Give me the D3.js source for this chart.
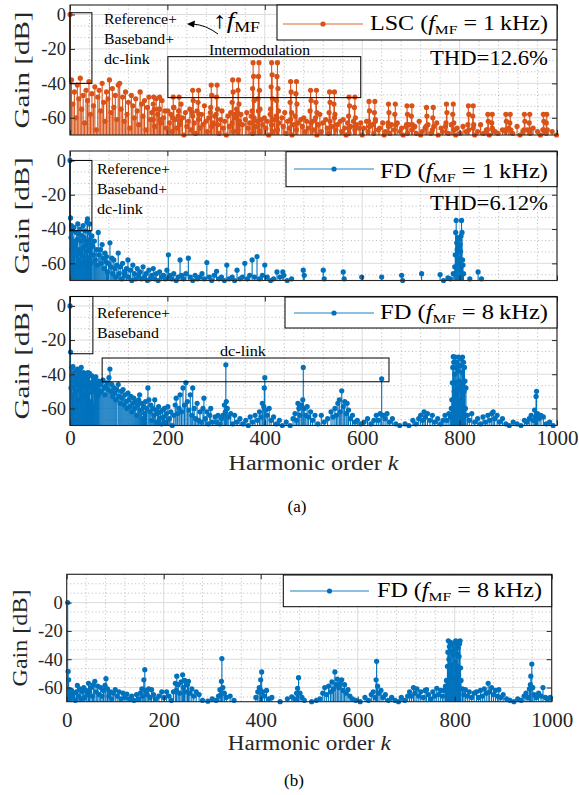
<!DOCTYPE html>
<html><head><meta charset="utf-8">
<script src="https://cdn.jsdelivr.net/npm/d3@7"></script>
<style>
body{margin:0;background:#fff}
svg{display:block}
text{font-family:"Liberation Serif","Times New Roman",serif;fill:#000}
</style>
</head><body>
<svg id="c" width="579" height="795"></svg>
<script>
// ---------------- DATA ----------------
const xTickValues = [0, 200, 400, 600, 800, 1000];
const yTickValues = [-60, -40, -20, 0];

// LSC (f_MF = 1 kHz): background spectrum, every 3rd harmonic order starting at 0
const lscCloud = [
  0,
  -38,-52,-45,-60,-41,-49,-37,-55,-47,-63,-44,-50,-39,-58,-46,-53,-42,-67,-48,-44,-56,-40,-51,-62,-45,-49,-38,-57,-43,-54,-47,-61,-41,
  -40,-55,-48,-62,-45,-58,-51,-66,-47,-53,-60,-49,-56,-64,-45,-52,-59,-50,-67,-54,-48,-61,-57,-52,-65,-49,-58,-55,-63,-50,-60,-56,-66,
  -56,-63,-58,-68,-54,-61,-66,-59,-64,-52,-60,-70,-57,-65,-62,-55,-67,-59,-63,-69,-56,-61,-66,-58,-64,-53,-62,-68,-60,-57,-65,-63,-59,
  -58,-64,-69,-61,-56,-66,-62,-70,-59,-65,-57,-63,-68,-60,-55,-67,-62,-58,-64,-71,-61,-57,-66,-63,-59,-69,-60,-65,-62,-56,-68,-61,-64,
  -60,-66,-62,-70,-58,-64,-68,-61,-59,-67,-63,-72,-60,-65,-57,-69,-62,-66,-61,-70,-64,-59,-67,-63,-73,-61,-65,-60,-68,-62,-66,-71,-63,
  -62,-67,-60,-70,-64,-58,-68,-63,-72,-61,-66,-69,-62,-65,-71,-60,-67,-64,-74,-62,-68,-61,-66,-70,-63,-69,-65,-72,-62,-67,-64,-71,-66,
  -63,-70,-66,-73,-62,-68,-65,-75,-64,-69,-61,-72,-67,-66,-74,-63,-70,-68,-76,-65,-69,-64,-72,-67,-71,-63,-75,-68,-66,-70,-73,-65,-69,
  -64,-71,-67,-76,-65,-69,-73,-62,-70,-68,-75,-66,-72,-64,-78,-69,-67,-71,-74,-63,-70,-76,-66,-68,-73,-65,-71,-69,-77,-64,-72,-67,-70,
  -66,-73,-69,-78,-65,-71,-68,-75,-67,-72,-80,-66,-70,-74,-68,-77,-64,-71,-69,-76,-67,-73,-70,-79,-66,-72,-68,-75,-69,-74,-81,-67,-71,
  -68,-75,-66,-72,-79,-69,-71,-77,-65,-73,-70,-76,-68,-74,-82,-67,-72,-69,-78,-66,-71,-75,-68,-80,-70,-73,-67,-77,-69,-74,-71,-79,-68,-72,-76,-70
];
const lscStep = 3;

// LSC intermodulation side-band pairs [harmonic order, dB]
const lscIntermod = [
  [172,-48],[184,-48],[173,-55],[183,-55],[171,-61],[185,-61],
  [212,-48],[224,-48],[213,-54],[223,-56],[211,-60],[225,-62],
  [252,-44],[264,-44],[253,-50],[263,-51],[251,-57],[265,-58],
  [290,-41],[302,-41],[291,-47],[301,-48],[289,-54],[303,-55],
  [334,-38],[346,-38],[335,-45],[345,-44],[333,-51],[347,-52],[336,-58],[344,-57],
  [376,-28],[388,-28],[377,-36],[387,-36],[375,-43],[389,-44],[378,-50],[386,-49],[374,-56],[390,-55],
  [414,-28],[426,-28],[415,-35],[425,-36],[413,-42],[427,-43],[416,-49],[424,-50],[412,-55],[428,-56],
  [453,-39],[465,-39],[454,-45],[464,-46],[452,-51],[466,-52],[455,-57],
  [494,-44],[506,-44],[495,-50],[505,-51],[493,-56],[507,-57],
  [533,-45],[543,-45],[534,-51],[542,-52],[532,-57],[544,-58],
  [573,-48],[585,-48],[574,-53],[584,-54],[572,-59],[586,-60],
  [614,-50.5],[626,-50.5],[615,-56],[625,-57],[613,-62],[627,-62],
  [654,-52],[668,-52],[655,-57],[667,-58],[653,-63],[669,-64],
  [692,-53],[702,-53],[693,-58],[701,-59],[691,-64],[703,-64],
  [732,-54],[746,-54],[733,-59],[745,-60],[731,-65],[747,-65],
  [773,-52],[787,-52],[774,-57],[786,-58],[772,-63],[788,-63],
  [818,-53],[828,-53],[819,-58],[827,-59],[817,-64],[829,-64],
  [858,-58],[867,-58],[859,-62],[866,-63],[857,-67],[868,-67],
  [895,-58],[904,-58],[896,-62],[903,-63],[894,-67],[905,-67],
  [933,-58],[944,-58],[934,-62],[943,-63],[932,-67],[945,-67],
  [972,-58],[979,-58],[973,-62],[978,-63],[971,-67],[980,-67]
];

// FD (f_MF = 1 kHz) [harmonic order, dB]
const fd1Points = [
  [0,0],[1,-33.5],[2,-45],[3,-38],[4,-52],[5,-41],[6,-57],[7,-47],[8,-39],[9,-50],[10,-53],[11,-61],[12,-48],[13,-42],
  [14,-55],[15,-46],[16,-37],[17,-52],[18,-58],[19,-43],[20,-62],[21,-40],[22,-54],[23,-47],[24,-60],[25,-44],[26,-51],
  [27,-38],[28,-56],[29,-45],[30,-50],[31,-41],[32,-59],[33,-47],[34,-53],[35,-36],[36,-34],[37,-48],[38,-57],[39,-42],
  [40,-37],[41,-51],[42,-46],[43,-60],[44,-49],[45,-44],[47,-50],[49,-55],[50,-47],[52,-58],[54,-52],[56,-61],[58,-42],
  [60,-55],[62,-52],[64,-60],[66,-49],[68,-57],[70,-63],[72,-54],[74,-59],[75,-56],[77,-65],[79,-60],[82,-48],[84,-62],
  [86,-57],[88,-66],[90,-58],[92,-63],[94,-68],[96,-61],[99,-54],[101,-66],[103,-62],[106,-69],[108,-60],[111,-65],
  [113,-67],[116,-63],[119,-58],[121,-68],[124,-64],[127,-70],[129,-61],[132,-66],[135,-69],[138,-63],[141,-67],[144,-65],
  [147,-69],[150,-62],[153,-68],[156,-66],[159,-70],[162,-64],[165,-69],[168,-67],[171,-63],[174,-69],[177,-66],[181,-70],
  [184,-65],[188,-68],[192,-67],[196,-69],[199,-64],[202,-55],[205,-67],[209,-69],[213,-66],[218,-70],[222,-68],[226,-58],
  [229,-67],[233,-69],[238,-66],[243,-57],[247,-68],[252,-70],[257,-67],[262,-69],[266,-68],[271,-66],[276,-69],[281,-59.5],
  [286,-68],[291,-70],[296,-67],[301,-64.6],[306,-69],[311,-68],[317,-70],[322,-61],[327,-69],[333,-68],[338,-70],[343,-64],
  [349,-69],[354,-68],[359,-60],[364,-69],[369,-67],[374,-58],[379,-68],[384,-56],[389,-69],[395,-67],[400,-61],[405,-68],
  [412,-70],[418,-69],[425,-65],[431,-68],[437,-65],[439,-67],[446,-70],[455,-69],[479,-64],[481,-67],[520,-64],[522,-69],
  [561,-65],[563,-69],[599,-68],[640,-68],[681,-67],[683,-70],[722,-66],[760,-66.5],[767,-70],[776,-68.5],[781,-69],[787,-66],
  [790,-62],[791,-55],[792,-42],[793,-35],[794,-48],[795,-52],[796,-45],[797,-57],[798,-50],[799,-46],[800,-60],[801,-49],
  [802,-53],[803,-44],[804,-35],[805,-42],[806,-58],[807,-61],[808,-66],[821,-69],[838,-65],[845,-69]
];

// FD (f_MF = 8 kHz), panel (a) [harmonic order, dB]
const fd8Points = [
  [0,0],[1,-27],[2,-48],[3,-36],[4,-41],[5,-52],[6,-35.5],[7,-44],[8,-39],[9,-47],[10,-60],[11,-42],[12,-38],[13,-50],
  [14,-45],[15,-37],[16,-43],[17,-55],[18,-40],[19,-46],[20,-38],[21,-49],[22,-42],[23,-36],[24,-44],[25,-52],[26,-41],
  [27,-47],[28,-39],[29,-45],[30,-43],[31,-53],[32,-40],[33,-46],[34,-42],[35,-48],[36,-44],[37,-39],[38,-51],[39,-45],
  [40,-39.5],[41,-47],[42,-59],[43,-56],[44,-46],[45,-41],[46,-49],[47,-44],[48,-59],[49,-48],[50,-43],[51,-50],[52,-46],
  [53,-41.5],[54,-52],[55,-47],[56,-45],[57,-53],[58,-49],[59,-44],[60,-51],[62,-46],[64,-50],[66,-44],[68,-43.4],[70,-48],
  [72,-52],[74,-47],[76,-45],[78,-49],[80,-42],[82,-37],[84,-50],[86,-46],[88,-53],[90,-48],[92,-51],[94,-55],[96,-49],
  [99,-46],[101,-53],[103,-57],[105,-50],[107,-54],[109,-49],[111,-58],[113,-52],[115,-56],[117,-60],[119,-51],[121,-55],
  [123,-59],[125,-53],[127,-62],[129,-57],[131,-54],[133,-60],[135,-56],[137,-64],[139,-58],[141,-55],[143,-52],[145,-61],
  [147,-57],[149,-66],[151,-59],[153,-63],[155,-56],[157,-60],[160,-48],[162,-55],[164,-62],[166,-58],[168,-67],[170,-60],
  [172,-64],[174,-55],[176,-61],[178,-68],[180,-63],[182,-59],[184,-66],[186,-62],[188,-69],[190,-61],[192,-65],[194,-60],
  [196,-68],[198,-63],[201,-59],[204,-66],[207,-62],[210,-70],[213,-64],[216,-58],[218,-54],[221,-63],[224,-60],[226,-52],
  [229,-62],[232,-48],[235,-58],[238,-45],[241,-56],[244,-61],[247,-52],[250,-64],[252,-48],[255,-60],[258,-66],[261,-57],
  [264,-67],[267,-62],[270,-68],[273,-60],[275,-54],[278,-66],[281,-62],[284,-69],[287,-64],[289,-60],[293,-68],[298,-65],
  [301,-68],[304,-64],[308,-69],[311,-66],[314,-64],[317,-58],[319,-62],[320,-34.5],[321,-56],[323,-60],[326,-65],[330,-63],
  [334,-69],[338,-64],[343,-68],[349,-66],[355,-69],[361,-67],[366,-70],[370,-65],[375,-68],[380,-64],[385,-67],[389,-62],
  [392,-65],[395,-57],[398,-59],[399,-48],[400,-42],[402,-61],[405,-64],[409,-60],[413,-67],[418,-65],[424,-69],[430,-67],
  [436,-70],[444,-68],[452,-70],[458,-66],[462,-63],[465,-67],[468,-57],[470,-60],[472,-64],[475,-58],[478,-55],[479,-36],
  [481,-60],[484,-64],[487,-59],[490,-65],[494,-62],[498,-67],[503,-64],[509,-69],[516,-64],[522,-68],[529,-66],[536,-62],
  [540,-65],[544,-60],[547,-64],[550,-57],[553,-55],[555,-62],[558,-49.7],[561,-59],[564,-56],[567,-63],[569,-57],[572,-61],
  [576,-66],[580,-64],[585,-68],[590,-67],[597,-69],[604,-68],[611,-66],[618,-69],[624,-67],[629,-64],[633,-67],[637,-63],
  [640,-42.7],[643,-64],[647,-66],[651,-63],[656,-68],[662,-66],[669,-69],[677,-70],[688,-69],[696,-70],[704,-67],[710,-69],
  [716,-66],[720,-64],[724,-67],[727,-62],[730,-65],[734,-63],[739,-67],[744,-64],[749,-68],[755,-66],[761,-69],[766,-67],
  [770,-64],[774,-67],[778,-63],[781,-65],[783,-60],[784,-55],[785,-45],[786,-36],[787,-29.7],[788,-33],[789,-50],
  [790,-40],[791,-30],[792,-45],[793,-36],[794,-52],[795,-33],[796,-48],[797,-38],[798,-30],[799,-44],[800,-55],[801,-35],
  [802,-47],[803,-31],[804,-50],[805,-39],[806,-30],[807,-45],[808,-33],[809,-50],[810,-36],[811,-44],[812,-60],[813,-48],
  [816,-64],[820,-67],[825,-63],[831,-68],[837,-66],[843,-69],[848,-65],[853,-68],[858,-64],[862,-67],[866,-63],[869,-62],
  [872,-66],[877,-64],[882,-68],[888,-66],[895,-69],[902,-70],[910,-68],[918,-69],[926,-70],[933,-67],[938,-68],[943,-66],
  [947,-64],[951,-67],[954,-61],[956,-65],[957,-53],[958,-50],[960,-63],[963,-66],[967,-64],[972,-65],[978,-69],[985,-68],
  [992,-70]
];

// FD (f_MF = 8 kHz), panel (b) [harmonic order, dB]
const fd8bPoints = [
  [2,0],[3,-48.6],[4,-54.5],[5,-61.5],[6,-65],[8,-68],[10,-62],[13,-67],[15,-64],[18,-69],[20,-63],[22,-58.5],[25,-66],
  [27,-61],[30,-68],[32,-63],[35,-60],[37,-67],[40,-62],[42,-65],[45,-57],[47,-63],[50,-60],[53,-66],[55,-58],[58,-55.6],
  [61,-63],[64,-59],[67,-65],[70,-60],[73,-66],[76,-62],[79,-58.5],[81,-53.7],[84,-61],[87,-66],[90,-63],[93,-68],[96,-64],
  [100,-61.5],[104,-66],[108,-63],[112,-68],[116,-64],[120,-67],[124,-64.6],[129,-68],[134,-66],[139,-69],[144,-65],
  [148,-68],[152,-64],[155,-61],[157,-66],[159,-54.5],[161,-47.4],[163,-62],[166,-65],[169,-61],[172,-67],[175,-61.5],
  [179,-65],[184,-68],[190,-66],[196,-63],[201,-67],[206,-63],[211,-66],[216,-69],[220,-63],[224,-57],[226,-62],[227,-52],
  [230,-58],[233,-64],[236,-56],[239,-51],[241,-60],[243,-55],[246,-63],[249,-58],[251,-55.6],[254,-64],[258,-61],[262,-66],
  [267,-63],[273,-65],[280,-69],[291,-69.6],[300,-68],[308,-69],[313,-66],[316,-61.5],[318,-65],[319,-55.6],[320,-39.5],
  [322,-60],[325,-64],[329,-67],[337,-66],[345,-69],[390,-67],[394,-63],[397,-60],[399,-61.5],[400,-54.5],[402,-49],
  [404,-63],[408,-66],[412,-62],[417,-68],[423,-67],[440,-70],[455,-68],[464,-66.5],[470,-68],[474,-64],[476,-60.5],
  [478,-53],[481,-64],[485,-67],[490,-69],[505,-70],[515,-69],[522,-68],[528,-64],[532,-60],[536,-65],[540,-59],[544,-63],
  [547,-56],[550,-61],[553,-49],[555,-58],[558,-54],[561,-60],[564,-57],[567,-54.5],[570,-62],[573,-58],[576,-64],
  [580,-61.5],[584,-66],[589,-68],[596,-69],[605,-70],[615,-67],[622,-69],[628,-65],[632,-63],[636,-67],[638,-54.5],
  [639,-41.5],[641,-59],[644,-64],[648,-62],[652,-67],[657,-65],[663,-69],[670,-67],[677,-69],[684,-70],[690,-67],[697,-69],
  [703,-66],[707,-63],[711,-66],[715,-60],[718,-64],[722,-61],[726,-66],[730,-63],[735,-67],[739,-62],[742,-61.5],[746,-65],
  [751,-68],[755,-63],[759,-66],[763,-60.5],[767,-65],[771,-62],[775,-66],[778,-62],[781,-59],[783,-55],[785,-45],[786,-35],
  [787,-27],[788,-40],[789,-31],[790,-50],[791,-28],[792,-44],[793,-34],[794,-52],[795,-30],[796,-47],[797,-37],[798,-29],
  [799,-53],[800,-33],[801,-42],[802,-27],[803,-48],[804,-36],[805,-30],[806,-45],[807,-32],[808,-51],[809,-38],[810,-29],
  [811,-27],[812,-46],[813,-55],[816,-61],[819,-65],[822,-61.5],[826,-66],[830,-63],[835,-67],[840,-64],[845,-63],[849,-67],
  [853,-62],[857,-66],[861,-61],[865,-64],[869,-57],[872,-63],[876,-60],[880,-65],[884,-62],[888,-66],[891,-61.5],[895,-67],
  [900,-65],[907,-68],[914,-69],[922,-70],[930,-68],[937,-69],[943,-66],[947,-64],[951,-67],[954,-61],[956,-58],[957,-52],
  [959,-43.4],[961,-60],[964,-65],[968,-67],[973,-64],[978,-66],[982,-60],[987,-67],[992,-68],[997,-67]
];

// ---------------- DRAWING ----------------
const svg = d3.select('#c');
const ORANGE = '#D95319', BLUE = '#0072BD';

const lscPoints = lscCloud.map((v, i) => [i * lscStep, v]).concat(lscIntermod);

function drawPanel(cfg) {
  const x = d3.scaleLinear().domain([0, 1000]).range([cfg.l, cfg.r]);
  const y = d3.scaleLinear().domain(cfg.yDom).range([cfg.b, cfg.t]);
  const g = svg.append('g');

  const minorX = d3.range(40, 1000, 40).filter(v => v % 200 !== 0);
  const minorY = d3.range(-80, cfg.yDom[1], 20 / 3)
      .filter(v => v > cfg.yDom[0] && v < cfg.yDom[1] && Math.abs(v / 20 - Math.round(v / 20)) > 0.05);
  const majorY = d3.range(-60, cfg.yDom[1] + 0.01, 20);

  const grid = g.append('g');
  grid.selectAll('.mx').data(minorX).join('line')
    .attr('x1', d => x(d)).attr('x2', d => x(d)).attr('y1', cfg.t).attr('y2', cfg.b)
    .attr('stroke', '#a8a8a8').attr('stroke-width', 0.8).attr('stroke-dasharray', '1,2.6');
  grid.selectAll('.my').data(minorY).join('line')
    .attr('y1', d => y(d)).attr('y2', d => y(d)).attr('x1', cfg.l).attr('x2', cfg.r)
    .attr('stroke', '#a8a8a8').attr('stroke-width', 0.8).attr('stroke-dasharray', '1,2.6');
  grid.selectAll('.Mx').data(xTickValues).join('line')
    .attr('x1', d => x(d)).attr('x2', d => x(d)).attr('y1', cfg.t).attr('y2', cfg.b)
    .attr('stroke', '#dcdcdc').attr('stroke-width', 1);
  grid.selectAll('.My').data(majorY).join('line')
    .attr('y1', d => y(d)).attr('y2', d => y(d)).attr('x1', cfg.l).attr('x2', cfg.r)
    .attr('stroke', '#dcdcdc').attr('stroke-width', 1);

  // stems + markers
  const pts = cfg.data.filter(d => d[1] >= cfg.yDom[0] - 0.3);
  const base = y(cfg.yDom[0]);
  g.append('g').selectAll('line').data(pts).join('line')
    .attr('x1', d => x(d[0])).attr('x2', d => x(d[0]))
    .attr('y1', base).attr('y2', d => y(d[1]))
    .attr('stroke', cfg.color).attr('stroke-width', 1.1);
  g.append('g').selectAll('circle').data(pts).join('circle')
    .attr('cx', d => x(d[0])).attr('cy', d => y(d[1])).attr('r', 2.6)
    .attr('fill', cfg.color);

  // axes with inward ticks
  const yAx = g.append('g').attr('transform', `translate(${cfg.l},0)`)
    .call(d3.axisLeft(y).tickValues(yTickValues).tickSizeInner(-5).tickSizeOuter(0).tickPadding(cfg.yPad)
      .tickFormat(d => String(d)));
  yAx.select('.domain').remove();
  yAx.selectAll('line').attr('stroke', '#262626');
  yAx.selectAll('text').style('font-family', '"Liberation Serif", serif').attr('font-size', cfg.yFont).style('fill', '#262626');

  const rAx = g.append('g').attr('transform', `translate(${cfg.r},0)`)
    .call(d3.axisRight(y).tickValues(yTickValues).tickSizeInner(-5).tickSizeOuter(0).tickFormat(''));
  rAx.select('.domain').remove();
  rAx.selectAll('line').attr('stroke', '#262626');

  const bAx = g.append('g').attr('transform', `translate(0,${cfg.b})`)
    .call(d3.axisBottom(x).tickValues(xTickValues).tickSizeInner(-5).tickSizeOuter(0).tickPadding(cfg.xPad)
      .tickFormat(cfg.xLabels ? (d => String(d)) : ''));
  bAx.select('.domain').remove();
  bAx.selectAll('line').attr('stroke', '#262626');
  bAx.selectAll('text').style('font-family', '"Liberation Serif", serif').attr('font-size', 21).style('fill', '#262626');

  const tAx = g.append('g').attr('transform', `translate(0,${cfg.t})`)
    .call(d3.axisTop(x).tickValues(xTickValues).tickSizeInner(-5).tickSizeOuter(0).tickFormat(''));
  tAx.select('.domain').remove();
  tAx.selectAll('line').attr('stroke', '#262626');

  g.append('rect').attr('x', cfg.l).attr('y', cfg.t).attr('width', cfg.r - cfg.l).attr('height', cfg.b - cfg.t)
    .attr('fill', 'none').attr('stroke', '#262626').attr('stroke-width', 1.1);

  // y label
  svg.append('text').attr('transform', `translate(${cfg.ylabX},${(cfg.t + cfg.b) / 2}) rotate(-90)`)
    .attr('text-anchor', 'middle').attr('font-size', cfg.ylabFont).style('fill', '#262626')
    .attr('textLength', cfg.ylabLen).attr('lengthAdjust', 'spacingAndGlyphs')
    .text('Gain [dB]');

  return {x, y, g};
}

function box(p, k0, k1, v0, v1) {
  const xa = p.x(k0), xb = p.x(k1), ya = p.y(v1), yb = p.y(v0);
  svg.append('rect').attr('x', xa).attr('y', ya).attr('width', xb - xa).attr('height', yb - ya)
    .attr('fill', 'none').attr('stroke', '#000').attr('stroke-width', 1);
}

function label(x, y, txt, size, len) {
  const t = svg.append('text').attr('x', x).attr('y', y).attr('font-size', size).text(txt);
  if (len) t.attr('textLength', len).attr('lengthAdjust', 'spacingAndGlyphs');
  return t;
}

function legend(bx, by, bw, bh, lineX0, lineX1, lineY, color, name, val, tx, tBase, tLen) {
  svg.append('rect').attr('x', bx).attr('y', by).attr('width', bw).attr('height', bh)
    .attr('fill', '#fff').attr('stroke', '#000').attr('stroke-width', 1);
  svg.append('line').attr('x1', lineX0).attr('x2', lineX1).attr('y1', lineY).attr('y2', lineY)
    .attr('stroke', color).attr('stroke-width', 1.6).attr('stroke-opacity', 0.6);
  svg.append('circle').attr('cx', (lineX0 + lineX1) / 2).attr('cy', lineY).attr('r', 2.6).attr('fill', color);
  const size = 20;
  const t = svg.append('text').attr('x', tx).attr('y', tBase).attr('font-size', size)
    .attr('textLength', tLen).attr('lengthAdjust', 'spacingAndGlyphs');
  t.append('tspan').text(name + ' (');
  t.append('tspan').attr('font-style', 'italic').text('f');
  t.append('tspan').attr('font-size', 13).attr('dy', 4).text('MF');
  t.append('tspan').attr('dy', -4).text(' = ' + val + '\u2009kHz)');
}

// Panel 1: LSC
const p1 = drawPanel({data: lscPoints, color: ORANGE, l: 70, r: 557, t: 5, b: 135, yDom: [-70, 5.5],
  xLabels: false, yPad: 4, xPad: 6, yFont: 18.5, ylabX: 29, ylabFont: 22, ylabLen: 117});
// Panel 2: FD 1 kHz
const p2 = drawPanel({data: fd1Points, color: BLUE, l: 70, r: 557, t: 151, b: 280.5, yDom: [-70, 5.5],
  xLabels: false, yPad: 4, xPad: 6, yFont: 18.5, ylabX: 29, ylabFont: 22, ylabLen: 117});
// Panel 3: FD 8 kHz
const p3 = drawPanel({data: fd8Points, color: BLUE, l: 70, r: 557, t: 296.5, b: 425.5, yDom: [-70, 5.5],
  xLabels: true, yPad: 4, xPad: 5, yFont: 18.5, ylabX: 29, ylabFont: 22, ylabLen: 117});
// Panel b
const pb = drawPanel({data: fd8bPoints, color: BLUE, l: 66.7, r: 551.7, t: 574.3, b: 701.7, yDom: [-70, 20],
  xLabels: true, yPad: 4, xPad: 10, yFont: 18.5, ylabX: 27, ylabFont: 21, ylabLen: 97});

// annotations panel 1
box(p1, 0, 45, -40, 1);
label(104, 24, 'Reference+', 15, 73);
label(104, 43.5, 'Baseband+', 15, 70);
label(104, 63.5, 'dc-link', 15, 46);
box(p1, 201, 597, -48.3, -24.5);
label(209, 54.5, 'Intermodulation', 15, 101);
{
  const t = svg.append('text').attr('x', 213).attr('y', 28).attr('font-size', 23)
    .attr('textLength', 47).attr('lengthAdjust', 'spacingAndGlyphs');
  t.append('tspan').text('\u2191');
  t.append('tspan').attr('font-style', 'italic').text('f');
  t.append('tspan').attr('font-size', 15).attr('dy', 4).text('MF');
  svg.append('path').attr('d', 'M218,34 Q206,25 193,24').attr('fill', 'none').attr('stroke', '#000').attr('stroke-width', 1);
  svg.append('path').attr('d', 'M187,24 L195,20.5 L194,27.5 Z').attr('fill', '#000');
}
label(548, 65, 'THD=12.6%', 20, 118).attr('text-anchor', 'end');
legend(277, 5, 280, 35, 283, 363, 24, ORANGE, 'LSC', '1', 370, 30, 178);

// annotations panel 2
box(p2, 0, 45, -41, 0);
label(97, 173.5, 'Reference+', 15, 73);
label(97, 194, 'Baseband+', 15, 70);
label(97, 214, 'dc-link', 15, 46);
label(548, 210, 'THD=6.12%', 20, 118).attr('text-anchor', 'end');
legend(286, 151.7, 271, 35, 294, 374, 169, BLUE, 'FD', '1', 380, 178, 168);

// annotations panel 3
box(p3, 0, 47, -28, 5.5);
label(97, 317.5, 'Reference+', 15, 73);
label(97, 337.5, 'Baseband', 15, 62);
box(p3, 66, 655, -44.4, -30.5);
label(243, 355.5, 'dc-link', 15, 46).attr('text-anchor', 'middle');
legend(285, 297, 272, 31, 294, 374, 313, BLUE, 'FD', '8', 380, 318.5, 168);

// panel b legend
legend(283.3, 575, 268.4, 31.7, 290, 369, 591, BLUE, 'FD', '8', 377, 597, 165);

// x-axis titles and captions
function xTitle(cx, base, len) {
  const t = svg.append('text').attr('x', cx).attr('y', base).attr('font-size', 20).attr('text-anchor', 'middle')
    .style('fill', '#262626').attr('textLength', len).attr('lengthAdjust', 'spacingAndGlyphs');
  t.append('tspan').text('Harmonic order ');
  t.append('tspan').attr('font-style', 'italic').text('k');
}
xTitle(313.5, 470, 170);
xTitle(309.2, 750, 163);
label(297, 512, '(a)', 17).attr('text-anchor', 'middle');
label(294, 786, '(b)', 17).attr('text-anchor', 'middle');
</script>
</body></html>
